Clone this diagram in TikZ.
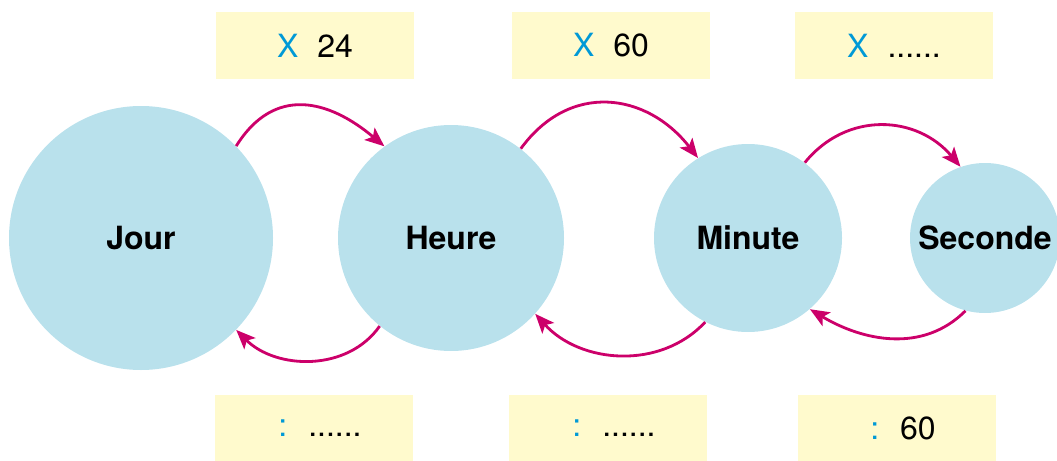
\documentclass[tikz,border=0pt]{standalone}
\usepackage{fontspec}
\setmainfont{TeX Gyre Heros}
\usetikzlibrary{arrows.meta,positioning}

\definecolor{bulle}{RGB}{185,225,236}
\definecolor{jaune}{RGB}{255,250,205}
\definecolor{fleche}{RGB}{204,0,106}
\definecolor{bleu}{RGB}{0,153,214}

\begin{document}
\begin{tikzpicture}[
  font=\fontsize{18.2}{22}\selectfont,
  unite/.style={circle, fill=bulle, inner sep=0pt, font=\fontsize{18.2}{22}\selectfont\bfseries},
  facteur/.style={rectangle, fill=jaune, minimum width=3.96cm, minimum height=1.32cm,
                  inner sep=0pt},
  arr/.style={-{Stealth[length=11pt, width=9pt, inset=2.5pt]}, line width=1.6pt, draw=fleche}
]
\useasboundingbox (0,0) rectangle (21.14,9.2);

% --- Unités ---
\node[unite, minimum size=5.28cm] (jour)    at (2.82,4.44)  {Jour};
\node[unite, minimum size=4.52cm] (heure)   at (9.02,4.44)  {Heure};
\node[unite, minimum size=3.76cm] (minute)  at (14.96,4.44) {Minute};
\node[unite, minimum size=3.00cm] (seconde) at (19.70,4.44) {Seconde};

% --- Facteurs (haut) ---
\node[facteur] (mul1) at (6.30,8.29)  {\textcolor{bleu}{X}\hspace{0.38cm}24};
\node[facteur] (mul2) at (12.22,8.29) {\textcolor{bleu}{X}\hspace{0.38cm}60};
\node[facteur] (mul3) at (17.88,8.29) {\textcolor{bleu}{X}\hspace{0.38cm}......};

% --- Facteurs (bas) ---
\node[facteur] (div1) at (6.28,0.64)  {\hspace*{0.24cm}\textcolor{bleu}{:}\hspace{0.42cm}......};
\node[facteur] (div2) at (12.16,0.64) {\hspace*{0.24cm}\textcolor{bleu}{:}\hspace{0.42cm}......};
\node[facteur] (div3) at (17.94,0.64) {\hspace*{0.24cm}\textcolor{bleu}{:}\hspace{0.42cm}60};

% --- Flèches ---
\draw[arr] (jour.44)     to[out=58, in=140, looseness=1.25] (heure.126);
\draw[arr] (heure.52)    to[out=54, in=128, looseness=1.2]  (minute.122);
\draw[arr] (minute.53)   to[out=51, in=130, looseness=1.1]  (seconde.109);
\draw[arr] (heure.231)   to[out=235, in=-45] (jour.316);
\draw[arr] (minute.243)  to[out=227, in=-48] (heure.318);
\draw[arr] (seconde.255) to[out=225, in=-31] (minute.311);

\end{tikzpicture}
\end{document}
